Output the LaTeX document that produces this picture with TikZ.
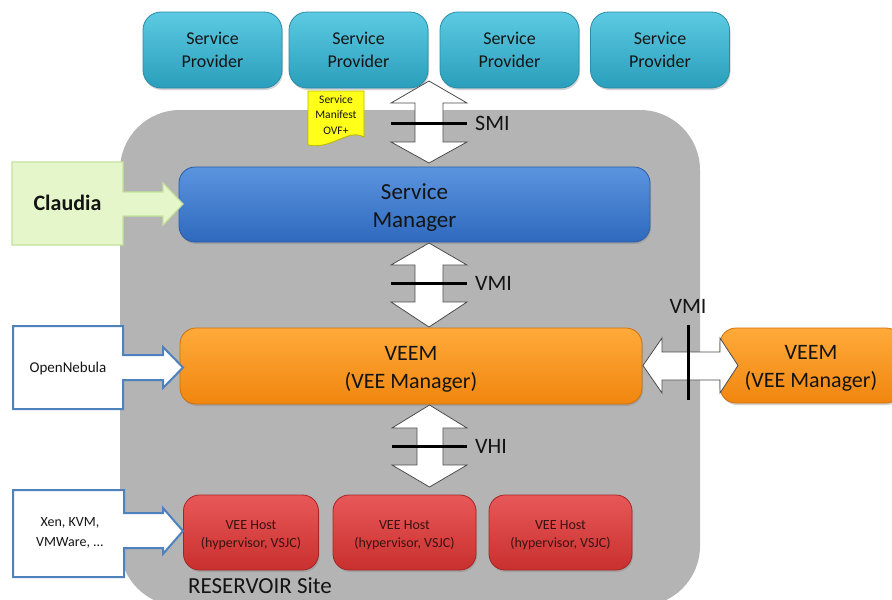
\documentclass[tikz,border=0pt]{standalone}
\usepackage{fontspec}
\setmainfont{Carlito}
\usetikzlibrary{shadows}
\definecolor{bggray}{HTML}{B4B4B4}
\definecolor{spTop}{HTML}{5CCAE2}
\definecolor{spBot}{HTML}{2A9EBB}
\definecolor{spLine}{HTML}{2A8CA6}
\definecolor{smTop}{HTML}{5B94DE}
\definecolor{smBot}{HTML}{2F69BE}
\definecolor{smLine}{HTML}{2A5CA8}
\definecolor{veTop}{HTML}{FFAA3A}
\definecolor{veBot}{HTML}{F0860F}
\definecolor{veLine}{HTML}{D0700A}
\definecolor{vhTop}{HTML}{E85858}
\definecolor{vhBot}{HTML}{C8302E}
\definecolor{vhLine}{HTML}{A82424}
\definecolor{clFill}{HTML}{E6F6CB}
\definecolor{clLine}{HTML}{C4E29A}
\definecolor{onLine}{HTML}{4F81BD}
\definecolor{noteY}{HTML}{FFFF1A}
\definecolor{noteLine}{HTML}{B8B800}
\definecolor{txt}{HTML}{141414}
\definecolor{hostTxt}{HTML}{3A1212}
\tikzset{
  box/.style={rounded corners=16pt, minimum height=75pt, inner sep=0pt, align=center,
    drop shadow={shadow xshift=1pt, shadow yshift=-2pt, opacity=0.35}},
  spbox/.style={box, top color=spTop, bottom color=spBot, draw=spLine, line width=0.8pt,
    minimum width=139pt, minimum height=76pt, font=\fontsize{18}{23}\selectfont, text=txt,
    rounded corners=18pt},
  smbox/.style={box, top color=smTop, bottom color=smBot, draw=smLine, line width=0.8pt,
    font=\fontsize{23}{28}\selectfont, text=txt, text depth=-3pt},
  vebox/.style={box, top color=veTop, bottom color=veBot, draw=veLine, line width=0.8pt,
    font=\fontsize{22}{28}\selectfont, text=txt},
  vhbox/.style={box, top color=vhTop, bottom color=vhBot, draw=vhLine, line width=0.8pt,
    font=\fontsize{14}{18}\selectfont, text=hostTxt},
  dbl/.style={fill=white, draw=black!70, line width=0.8pt, line join=miter},
  bar/.style={line width=3pt, black},
  lbl/.style={font=\fontsize{22}{26}\selectfont, text=txt, inner sep=0pt},
  callgreen/.style={fill=clFill, draw=clLine, line width=1.2pt},
  callblue/.style={fill=white, draw=onLine, line width=2pt}
}
\begin{document}
\begin{tikzpicture}[x=1pt,y=-1pt]
\useasboundingbox (0,0) rectangle (892,600);
\clip (0,0) rectangle (892,600);
\fill[white] (0,0) rectangle (892,600);
% RESERVOIR site background
\fill[bggray, rounded corners=60pt] (120,110) rectangle (700,606);

% service providers
\node[spbox] (sp1) at (212.5,50) {Service\\Provider};
\node[spbox] (sp2) at (358.5,50) {Service\\Provider};
\node[spbox] (sp3) at (509.5,50) {Service\\Provider};
\node[spbox] (sp4) at (660,50) {Service\\Provider};

% service manifest note
\draw[fill=noteY, draw=noteLine, line width=0.8pt]
  (308,91) -- (364,91) -- (364,137) .. controls (348,128) and (332,150) .. (308,145) -- cycle;
\node[font=\fontsize{11.5}{15.5}\selectfont, text=txt, align=center, inner sep=0pt] (note) at (336,115) {Service\\Manifest\\OVF+};

% main managers (boxes, then text)
\node[smbox, minimum width=471pt] (sm) at (414.5,204.5) {};
\node[font=\fontsize{23}{28}\selectfont, text=txt, align=center] (smt) at (414.5,207.5) {Service\\Manager};
\node[vebox, minimum width=462pt, minimum height=76pt] (veem) at (411,366) {};
\node[font=\fontsize{22}{28}\selectfont, text=txt, align=center] (veemt) at (411,369) {VEEM\\(VEE Manager)};
\node[vebox, minimum width=182pt] (veem2) at (811,365.5) {};
\node[font=\fontsize{22}{28}\selectfont, text=txt, align=center] (veem2t) at (811,368) {VEEM\\(VEE Manager)};

% hosts
\node[vhbox, minimum width=135pt] (h1) at (251,532.5) {};
\node[vhbox, minimum width=143pt] (h2) at (404.5,532.5) {};
\node[vhbox, minimum width=143pt] (h3) at (560.5,532.5) {};
\foreach \n/\x in {h1/251, h2/404.5, h3/560.5}{
  \node[font=\fontsize{14}{18}\selectfont, text=hostTxt, align=center] (\n t) at (\x,535.5) {VEE Host\\(hypervisor, VSJC)};
}

% SMI arrow
\draw[dbl] (429,81) -- (467,103) -- (443,103) -- (443,142) -- (467,142) -- (429,163)
  -- (391,142) -- (415,142) -- (415,103) -- (391,103) -- cycle;
\coordinate (smiL) at (391,123); \coordinate (smiR) at (467,123);
\draw[bar] (smiL) -- (smiR);
\node[lbl, anchor=west] (smi) at (475,123) {SMI};

% VMI arrow (vertical)
\draw[dbl] (429,243) -- (467,265) -- (443,265) -- (443,302) -- (467,302) -- (429,327)
  -- (391,302) -- (415,302) -- (415,265) -- (391,265) -- cycle;
\coordinate (vmiL) at (391,283); \coordinate (vmiR) at (467,283);
\draw[bar] (vmiL) -- (vmiR);
\node[lbl, anchor=west] (vmi) at (475,283) {VMI};

% VHI arrow
\draw[dbl] (429.5,405) -- (467,428) -- (443,428) -- (443,465) -- (467,465) -- (429.5,487)
  -- (392,465) -- (417,465) -- (417,428) -- (392,428) -- cycle;
\coordinate (vhiL) at (392,446); \coordinate (vhiR) at (467,446);
\draw[bar] (vhiL) -- (vhiR);
\node[lbl, anchor=west] (vhi) at (475,446) {VHI};

% VMI arrow (horizontal)
\draw[dbl] (643,365.5) -- (662,338) -- (662,352) -- (720,352) -- (720,338) -- (738,365.5)
  -- (720,393) -- (720,380) -- (662,380) -- (662,393) -- cycle;
\coordinate (vmi2T) at (688,325); \coordinate (vmi2B) at (688,400);
\draw[bar] (vmi2T) -- (vmi2B);
\node[lbl] (vmi2) at (688,306) {VMI};

% Claudia
\draw[callgreen] (12,162) -- (123,162) -- (123,192) -- (163,192) -- (163,183) -- (183,204)
  -- (163,225) -- (163,216) -- (123,216) -- (123,245) -- (12,245) -- cycle;
\node[font=\bfseries\fontsize{22}{26}\selectfont, text=txt] (claudia) at (67.5,203) {Claudia};

% OpenNebula
\draw[callblue] (13,326) -- (123,326) -- (123,355) -- (163,355) -- (163,347) -- (183,367.5)
  -- (163,388) -- (163,380) -- (123,380) -- (123,409) -- (13,409) -- cycle;
\node[font=\fontsize{15}{18}\selectfont, text=txt] (one) at (68,368) {OpenNebula};

% Xen, KVM
\draw[callblue] (13,490) -- (124,490) -- (124,513) -- (163,513) -- (163,508) -- (183,531)
  -- (163,554) -- (163,548) -- (124,548) -- (124,577) -- (13,577) -- cycle;
\node[font=\fontsize{14}{20}\selectfont, text=txt, align=center] (xen) at (70,533) {Xen, KVM,\\VMWare, ...};

% site label
\node[font=\fontsize{23}{26}\selectfont, text=txt, inner sep=0pt] (site) at (260,586) {RESERVOIR Site};
\end{tikzpicture}
\end{document}
